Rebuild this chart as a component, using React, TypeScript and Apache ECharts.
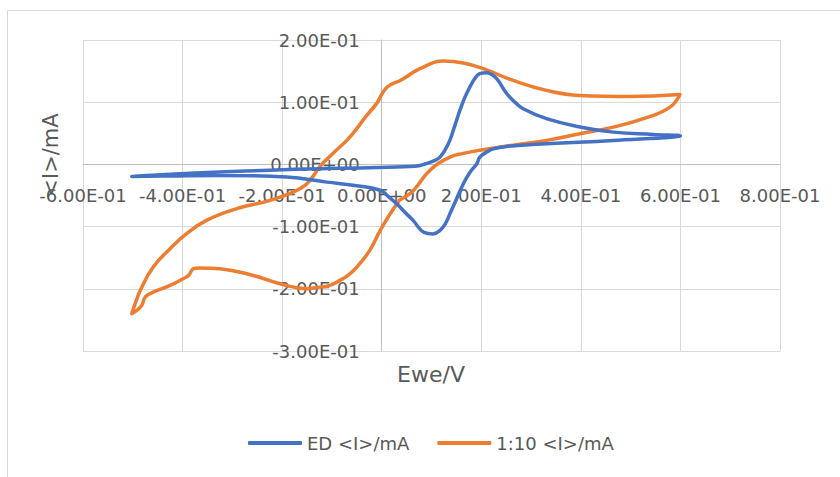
import React, { useEffect, useRef } from "react";
import * as echarts from "echarts";

// ---- Axis definitions ----
const xMin = -0.6;
const xMax = 0.8;
const xStep = 0.2;
const yMin = -0.3;
const yMax = 0.2;
const yStep = 0.1;
const xTickLabels = ["-6.00E-01", "-4.00E-01", "-2.00E-01", "0.00E+00", "2.00E-01", "4.00E-01", "6.00E-01", "8.00E-01"];
const yTickLabels = ["-3.00E-01", "-2.00E-01", "-1.00E-01", "0.00E+00", "1.00E-01", "2.00E-01"];

// ---- Series names ----
const seriesNames = ["ED <I>/mA", "1:10 <I>/mA"];

// ---- ED <I>/mA (potential / current) ----
const edX = [
  -0.502, -0.425, -0.325, -0.224, -0.124, -0.044, 0.030, 0.067, 0.090, 0.107,
  0.117, 0.127, 0.137, 0.147, 0.157, 0.167, 0.177, 0.187, 0.197, 0.211,
  0.218, 0.231, 0.251, 0.268, 0.284, 0.331, 0.398, 0.465, 0.545, 0.600,
  0.465, 0.331, 0.251, 0.224, 0.211, 0.197, 0.191, 0.177, 0.164, 0.149,
  0.137, 0.127, 0.117, 0.103, 0.085, 0.063, 0.047, 0.030, 0.013, -0.003,
  -0.054, -0.110, -0.191, -0.325, -0.425, -0.502,
];
const edY = [
  -0.0193, -0.0158, -0.0124, -0.0093, -0.0069, -0.0056, -0.0040, -0.0030, 0.0014, 0.0064,
  0.0117, 0.0228, 0.0389, 0.0627, 0.0868, 0.1077, 0.1243, 0.1380, 0.1458, 0.1474,
  0.1458, 0.1378, 0.1140, 0.0997, 0.0895, 0.0735, 0.0600, 0.0519, 0.0482, 0.0462,
  0.0386, 0.0333, 0.0289, 0.0250, 0.0198, 0.0117, 0.0011, -0.0129, -0.0310, -0.0579,
  -0.0793, -0.0965, -0.1061, -0.1117, -0.1093, -0.0900, -0.0772, -0.0632, -0.0514, -0.0415,
  -0.0338, -0.0285, -0.0204, -0.0177, -0.0185, -0.0193,
];

// ---- 1:10 <I>/mA (potential / current) ----
const dilX = [
  0.033, 0.017, -0.003, -0.024, -0.050, -0.068, -0.084, -0.104, -0.124, -0.151,
  -0.204, -0.258, -0.325, -0.365, -0.378, -0.388, -0.399, -0.425, -0.459, -0.475,
  -0.482, -0.492, -0.502, -0.495, -0.485, -0.459, -0.425, -0.392, -0.352, -0.291,
  -0.224, -0.178, -0.154, -0.138, -0.124, -0.098, -0.064, -0.030, -0.010, 0.010,
  0.040, 0.077, 0.124, 0.164, 0.204, 0.264, 0.331, 0.398, 0.499, 0.599,
  0.579, 0.532, 0.465, 0.398, 0.331, 0.264, 0.197, 0.164, 0.137, 0.097,
  0.064, 0.045, 0.035,
];
const dilY = [
  -0.0611, -0.0793, -0.1061, -0.1383, -0.1651, -0.1785, -0.1865, -0.1945, -0.1973, -0.1998,
  -0.1918, -0.1785, -0.1677, -0.1664, -0.1677, -0.1785, -0.1838, -0.1945, -0.2053, -0.2133,
  -0.2267, -0.2347, -0.2400, -0.2235, -0.2026, -0.1651, -0.1355, -0.1114, -0.0900, -0.0712,
  -0.0579, -0.0445, -0.0338, -0.0193, -0.0032, 0.0177, 0.0439, 0.0788, 0.0981, 0.1238,
  0.1362, 0.1539, 0.1661, 0.1629, 0.1539, 0.1350, 0.1190, 0.1109, 0.1093, 0.1125,
  0.0921, 0.0751, 0.0600, 0.0494, 0.0386, 0.0309, 0.0228, 0.0177, 0.0117, -0.0093,
  -0.0418, -0.0531, -0.0579,
];

const FONT = "DejaVu Sans";
const TEXT = "#595959";
const GRID = "#d9d9d9";

// plot area (pixels)
const GRID_LEFT = 83;
const GRID_RIGHT = 780;
const GRID_TOP = 40;
const GRID_BOTTOM = 351;

function zip(xs: number[], ys: number[]): number[][] {
  return xs.map((x, i) => [x, ys[i]]);
}

function labelFrom(list: string[], min: number, step: number) {
  return (v: number) => {
    const i = Math.round((v - min) / step);
    return list[i] ?? "";
  };
}

export default function App() {
  const ref = useRef<HTMLDivElement>(null);

  useEffect(() => {
    document.body.style.margin = "0";
    if (!ref.current) return;
    const chart = echarts.init(ref.current, null, { renderer: "svg" });
    // offsets that bring each axis onto the other axis' zero
    const zeroY = GRID_TOP + ((yMax - 0) / (yMax - yMin)) * (GRID_BOTTOM - GRID_TOP);
    const zeroX = GRID_LEFT + ((0 - xMin) / (xMax - xMin)) * (GRID_RIGHT - GRID_LEFT);
    const option: any = {
      animation: false,
      backgroundColor: "#ffffff",
      grid: {
        left: GRID_LEFT,
        right: 840 - GRID_RIGHT,
        top: GRID_TOP,
        bottom: 477 - GRID_BOTTOM,
        containLabel: false,
        outerBoundsMode: "none",
      },
      xAxis: {
        type: "value",
        min: xMin,
        max: xMax,
        interval: xStep,
        position: "bottom",
        offset: -(GRID_BOTTOM - zeroY),
        axisLine: { show: true, onZero: false, lineStyle: { color: "#bfbfbf", width: 1 } },
        axisTick: { show: false },
        splitLine: { show: true, lineStyle: { color: GRID, width: 1 } },
        axisLabel: {
          margin: 22,
          color: TEXT,
          fontFamily: FONT,
          fontSize: 18,
          hideOverlap: false,
          formatter: labelFrom(xTickLabels, xMin, xStep),
        },
      },
      yAxis: {
        type: "value",
        min: yMin,
        max: yMax,
        interval: yStep,
        position: "left",
        offset: -(zeroX - GRID_LEFT),
        axisLine: { show: true, onZero: false, lineStyle: { color: "#bfbfbf", width: 1 } },
        axisTick: { show: false },
        splitLine: { show: true, lineStyle: { color: GRID, width: 1 } },
        axisLabel: {
          margin: 22,
          color: TEXT,
          fontFamily: FONT,
          fontSize: 18,
          hideOverlap: false,
          formatter: labelFrom(yTickLabels, yMin, yStep),
        },
      },
      legend: {
        left: 243,
        top: 429,
        padding: 5,
        icon: "roundRect",
        itemWidth: 54,
        itemHeight: 4,
        itemGap: 28,
        textStyle: { color: TEXT, fontFamily: FONT, fontSize: 18 },
        data: seriesNames,
      },
      graphic: [
        {
          type: "rect",
          silent: true,
          shape: { x: 7.5, y: 10.5, width: 900, height: 600 },
          style: { fill: "none", stroke: GRID, lineWidth: 1 },
        },
        {
          type: "text",
          x: 51,
          y: 155,
          rotation: Math.PI / 2,
          style: {
            text: "<I>/mA",
            fill: TEXT,
            font: `21px "${FONT}"`,
            align: "center",
            verticalAlign: "middle",
          },
        },
        {
          type: "text",
          x: 431,
          y: 374,
          style: {
            text: "Ewe/V",
            fill: TEXT,
            font: `22px "${FONT}"`,
            align: "center",
            verticalAlign: "middle",
          },
        },
      ],
      series: [
        {
          name: seriesNames[0],
          type: "line",
          data: zip(edX, edY),
          showSymbol: false,
          smooth: 0.45,
          color: "#4472C4",
          lineStyle: { color: "#4472C4", width: 3.5, cap: "round", join: "round" },
          z: 3,
        },
        {
          name: seriesNames[1],
          type: "line",
          data: zip(dilX, dilY),
          showSymbol: false,
          smooth: 0.45,
          color: "#ED7D31",
          lineStyle: { color: "#ED7D31", width: 3.5, cap: "round", join: "round" },
          z: 2,
        },
      ],
    };
    chart.setOption(option);
    return () => chart.dispose();
  }, []);

  return <div ref={ref} style={{ width: 840, height: 477 }} />;
}
